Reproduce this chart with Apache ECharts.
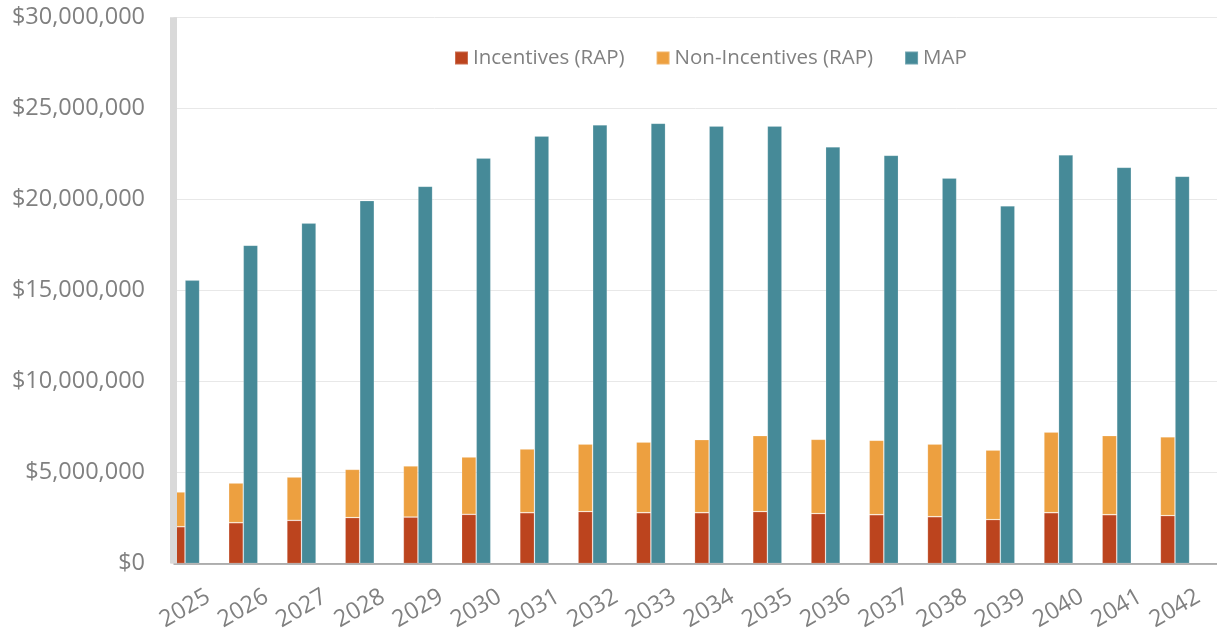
<!DOCTYPE html>
<html>
<head>
<meta charset="utf-8">
<script src="https://cdn.jsdelivr.net/npm/echarts@6/dist/echarts.min.js"></script>
<style>
  html, body { margin: 0; padding: 0; background: #ffffff; }
  #chart { width: 1217px; height: 636px; }
</style>
</head>
<body>
<div id="chart"></div>
<script>
// Annual spending, in dollars
const years = ['2025', '2026', '2027', '2028', '2029', '2030', '2031', '2032', '2033',
               '2034', '2035', '2036', '2037', '2038', '2039', '2040', '2041', '2042'];

const incentivesRAP = [2020000, 2240000, 2370000, 2520000, 2550000, 2700000, 2790000, 2850000, 2790000,
                       2790000, 2850000, 2740000, 2680000, 2570000, 2410000, 2790000, 2680000, 2630000];

const nonIncentivesRAP = [1910000, 2180000, 2380000, 2650000, 2810000, 3150000, 3500000, 3710000, 3880000,
                          4010000, 4170000, 4080000, 4090000, 3990000, 3820000, 4430000, 4340000, 4320000];

const mapValues = [15560000, 17480000, 18690000, 19930000, 20720000, 22270000, 23480000, 24090000, 24180000,
                   24030000, 24030000, 22880000, 22420000, 21170000, 19640000, 22440000, 21760000, 21270000];

const yTicks = { min: 0, max: 30000000, interval: 5000000 };

const seriesNames = ['Incentives (RAP)', 'Non-Incentives (RAP)', 'MAP'];
const colors = ['#BC441E', '#EDA040', '#468A98'];

const FONT = '"Open Sans", "DejaVu Sans", sans-serif';
const TEXT_GREY = '#808080';

const fmtDollars = v => '$' + Math.round(v).toLocaleString('en-US');

const chart = echarts.init(document.getElementById('chart'), null, { renderer: 'canvas' });

const TOP = 17.3, BOTTOM = 72.5;
const edge = 'rgba(255,255,255,0.22)';

chart.setOption({
  animation: false,
  backgroundColor: '#ffffff',
  textStyle: { fontFamily: FONT },
  color: colors,
  legend: {
    left: 454,
    top: 47.5,
    padding: 0,
    itemWidth: 13,
    itemHeight: 13,
    itemGap: 31,
    icon: 'rect',
    data: seriesNames,
    textStyle: { color: TEXT_GREY, fontSize: 20.5, fontFamily: FONT, lineHeight: 20 }
  },
  grid: [
    // frame grid: gridlines, value labels, axis lines
    { left: 173.5, right: 0, top: TOP, bottom: BOTTOM, containLabel: false },
    // bar grid
    { left: 155.9, right: 12.9, top: TOP, bottom: BOTTOM, containLabel: false }
  ],
  xAxis: [
    {
      gridIndex: 0, type: 'value', min: 0, max: 1, position: 'bottom',
      axisLine: { show: true, onZero: false, lineStyle: { color: '#9a9a9a', width: 1.5, cap: 'butt' } },
      axisTick: { show: false }, axisLabel: { show: false }, splitLine: { show: false }
    },
    {
      gridIndex: 1, type: 'category', data: years, position: 'bottom',
      axisLine: { show: false }, axisTick: { show: false },
      axisLabel: {
        rotate: 30, align: 'center', verticalAlign: 'middle', margin: 45,
        color: TEXT_GREY, fontSize: 23.5, fontFamily: FONT, interval: 0
      },
      splitLine: { show: false }
    }
  ],
  yAxis: [
    {
      gridIndex: 0, type: 'value', position: 'left',
      min: yTicks.min, max: yTicks.max, interval: yTicks.interval,
      axisLine: { show: false }, axisTick: { show: false },
      axisLabel: { color: TEXT_GREY, fontSize: 23.5, fontFamily: FONT, margin: 28.5, formatter: fmtDollars },
      splitLine: { show: true, lineStyle: { color: '#e8e8e8', width: 1 } }
    },
    {
      gridIndex: 1, type: 'value', position: 'left',
      min: yTicks.min, max: yTicks.max, interval: yTicks.interval,
      show: false, splitLine: { show: false }
    },
    {
      // thick left axis bar drawn above the bars
      gridIndex: 0, type: 'value', position: 'left', offset: 0,
      min: yTicks.min, max: yTicks.max, interval: yTicks.interval,
      z: 5,
      axisLine: { show: true, onZero: false, lineStyle: { color: '#d9d9d9', width: 7, cap: 'butt' } },
      axisTick: { show: false }, axisLabel: { show: false }, splitLine: { show: false }
    }
  ],
  series: [
    {
      name: seriesNames[0], type: 'bar', stack: 'rap', xAxisIndex: 1, yAxisIndex: 1,
      data: incentivesRAP, barWidth: 14.6, barGap: '0%',
      itemStyle: { color: colors[0], borderColor: edge, borderWidth: 0.8 }
    },
    {
      name: seriesNames[1], type: 'bar', stack: 'rap', xAxisIndex: 1, yAxisIndex: 1,
      data: nonIncentivesRAP, barWidth: 14.6, barGap: '0%',
      itemStyle: { color: colors[1], borderColor: edge, borderWidth: 0.8 }
    },
    {
      name: seriesNames[2], type: 'bar', xAxisIndex: 1, yAxisIndex: 1,
      data: mapValues, barWidth: 14.6, barGap: '0%',
      itemStyle: { color: colors[2], borderColor: edge, borderWidth: 0.8 }
    }
  ]
});
</script>
</body>
</html>
